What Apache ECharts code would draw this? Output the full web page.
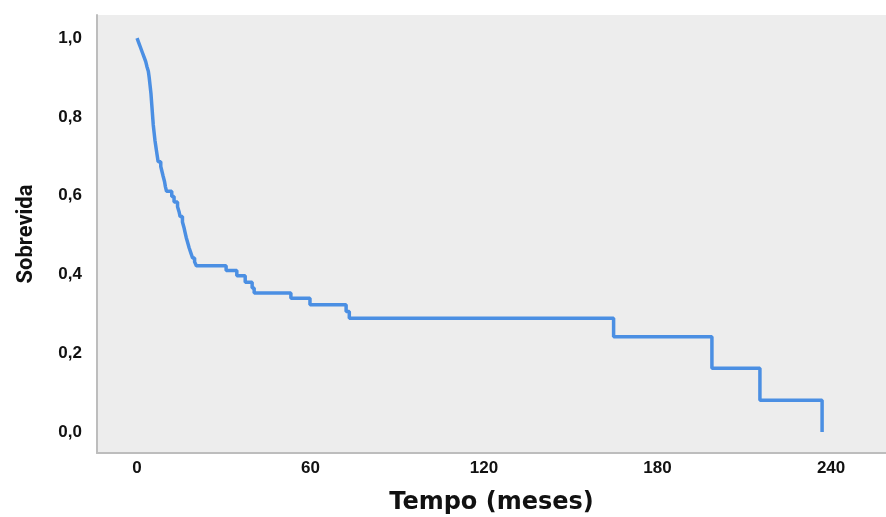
<!DOCTYPE html>
<html>
<head>
<meta charset="utf-8">
<script src="https://cdn.jsdelivr.net/npm/echarts@6/dist/echarts.min.js"></script>
<style>
  html, body { margin: 0; padding: 0; background: #fff; }
  #chart-container { width: 886px; height: 517px; }
</style>
</head>
<body>
<div id="chart-container"></div>
<script>
// Kaplan-Meier steps: time (months) and survival after each drop
let tempo = [0, 0.6, 1.2, 1.8, 2.4, 3.0, 3.4, 3.9, 4.2, 4.5, 4.8, 5.0, 5.2, 5.4, 5.6, 5.9, 6.2, 6.6, 7.0, 7.3,
    8.2, 8.6, 9.0, 9.5, 9.8, 10.2, 12.0, 12.8, 14.0, 14.5, 14.9, 15.7, 16.2, 16.6, 17.0, 17.5, 18.0, 18.6, 19.2, 19.9,
    20.5, 30.8, 34.5, 37.4, 39.8, 40.5, 53.2, 59.8, 72.3, 73.4, 164.8, 198.8, 215.4, 236.9]
let sobrevida = [1.0, 0.988, 0.976, 0.964, 0.952, 0.94, 0.928, 0.916, 0.90, 0.88, 0.86, 0.84, 0.82, 0.80, 0.78, 0.76, 0.74, 0.72, 0.70, 0.686,
    0.674, 0.662, 0.65, 0.636, 0.623, 0.611, 0.598, 0.584, 0.572, 0.56, 0.547, 0.533, 0.52, 0.507, 0.494, 0.481, 0.468, 0.455, 0.442, 0.432,
    0.422, 0.41, 0.397, 0.38, 0.366, 0.353, 0.34, 0.323, 0.306, 0.289, 0.242, 0.162, 0.081, 0]
let xTicks = [0, 60, 120, 180, 240]
let yTicks = [0, 0.2, 0.4, 0.6, 0.8, 1.0]

let points = []
for (let i = 0; i < tempo.length; i++) {
    points.push([tempo[i], sobrevida[i]])
}

let dom = document.getElementById('chart-container')
let myChart = echarts.init(dom, null, { renderer: 'canvas' })

let option = {
    animation: false,
    grid: {
        left: 97, right: 0, top: 15, bottom: 64,
        outerBoundsMode: 'none',
        containLabel: false,
        show: true,
        backgroundColor: '#ededed',
        borderWidth: 0
    },
    xAxis: {
        type: 'value',
        min: -13.85,
        max: 259,
        name: 'Tempo (meses)',
        nameLocation: 'middle',
        nameGap: 38,
        nameTextStyle: { fontFamily: 'DejaVu Sans', fontWeight: 'bold', fontSize: 24, color: '#111' },
        axisLine: { show: true, onZero: false, lineStyle: { color: '#bdbdbd', width: 2 } },
        axisTick: { show: false },
        splitLine: { show: false },
        axisLabel: {
            customValues: xTicks,
            margin: 7,
            fontFamily: 'Liberation Sans',
            fontWeight: 'bold',
            fontSize: 17,
            color: '#111'
        }
    },
    yAxis: {
        type: 'value',
        min: -0.053,
        max: 1.0585,
        name: 'Sobrevida',
        nameLocation: 'middle',
        nameGap: 60,
        nameRotate: 90,
        nameTextStyle: { fontFamily: 'Roboto', fontWeight: 'bold', fontSize: 22, color: '#111' },
        axisLine: { show: true, onZero: false, lineStyle: { color: '#bdbdbd', width: 2 } },
        axisTick: { show: false },
        splitLine: { show: false },
        axisLabel: {
            customValues: yTicks,
            margin: 15,
            fontFamily: 'Liberation Sans',
            fontWeight: 'bold',
            fontSize: 17,
            color: '#111',
            formatter: function (v) { return v.toFixed(1).replace('.', ',') }
        }
    },
    series: [
        {
            type: 'line',
            step: 'end',
            data: points,
            showSymbol: false,
            lineStyle: { color: '#4b8fe3', width: 3.5 }
        }
    ]
}

myChart.setOption(option)
window.addEventListener('resize', myChart.resize)
</script>
</body>
</html>
